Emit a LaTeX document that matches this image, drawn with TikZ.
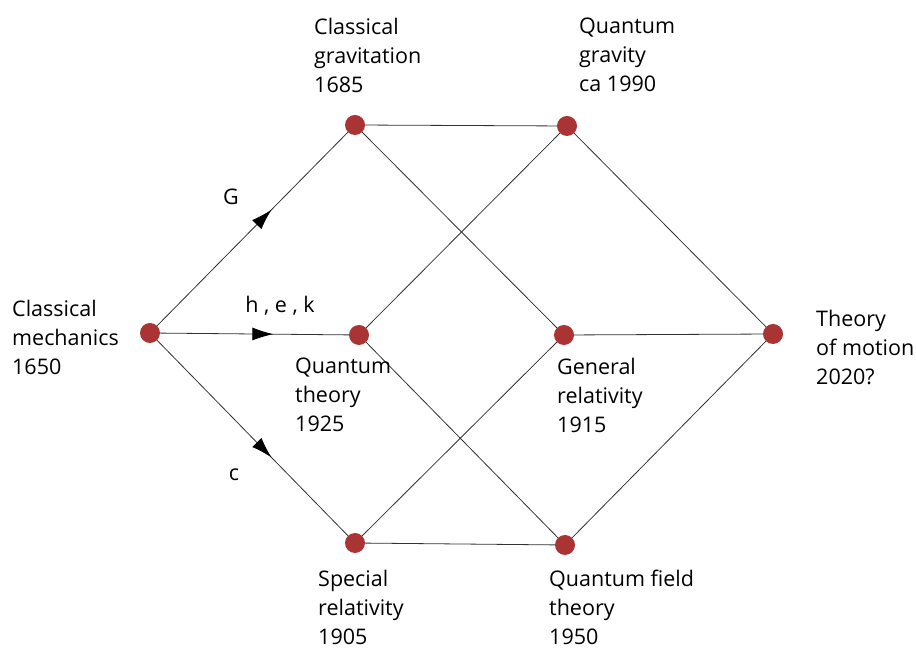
\documentclass[tikz,border=0pt]{standalone}
\usepackage{fontspec}
\setmainfont{Open Sans}
\usetikzlibrary{arrows.meta,decorations.markings}
\definecolor{dotred}{RGB}{170,52,52}
\definecolor{linegray}{RGB}{50,50,50}
\tikzset{
  dot/.style={circle,fill=dotred,minimum size=20pt,inner sep=0pt},
  lbl/.style={anchor=west,align=left,inner sep=0pt,font=\fontsize{21.5pt}{29pt}\selectfont},
  elbl/.style={inner sep=0pt,font=\fontsize{21.5pt}{29pt}\selectfont},
  conn/.style={draw=linegray,line width=0.8pt},
  arr/.style={postaction={decorate},decoration={markings,mark=at position 0.6 with {\arrow[black]{Latex[length=21pt,width=13pt]}}}}
}
\begin{document}
\begin{tikzpicture}[x=1pt,y=1pt]
\useasboundingbox (0,0) rectangle (916,648);
% dots (y = 648 - image y)
\node[dot] (cm) at (150,315) {};
\node[dot] (cg) at (355,523) {};
\node[dot] (qg) at (567,522) {};
\node[dot] (qt) at (359,313) {};
\node[dot] (gr) at (564,313) {};
\node[dot] (tm) at (773,314) {};
\node[dot] (sr) at (355,105) {};
\node[dot] (qft) at (565,103) {};
% connectors
\draw[conn,arr] (cm) -- (cg);
\draw[conn,arr] (cm) -- (qt);
\draw[conn,arr] (cm) -- (sr);
\draw[conn] (cg) -- (qg);
\draw[conn] (cg) -- (gr);
\draw[conn] (qg) -- (qt);
\draw[conn] (qg) -- (tm);
\draw[conn] (qt) -- (qft);
\draw[conn] (gr) -- (tm);
\draw[conn] (gr) -- (sr);
\draw[conn] (sr) -- (qft);
\draw[conn] (qft) -- (tm);
% labels
\node[lbl] (tcm) at (12,311) {Classical\\mechanics\\1650};
\node[lbl] (tcg) at (314,593) {Classical\\gravitation\\1685};
\node[lbl] (tqg) at (579,593) {Quantum\\gravity\\ca 1990};
\node[lbl] (tqt) at (295,253) {Quantum\\theory\\1925};
\node[lbl] (tgr) at (557,253) {General\\relativity\\1915};
\node[lbl] (ttm) at (816,301) {Theory\\of motion\\2020?};
\node[lbl] (tsr) at (318,41) {Special\\relativity\\1905};
\node[lbl] (tqft) at (549,41) {Quantum field\\theory\\1950};
\node[elbl] (lg) at (231,451) {G};
\node[elbl] (lhek) at (280,342) {h , e , k};
\node[elbl] (lc) at (234,173) {c};
\end{tikzpicture}
\end{document}
